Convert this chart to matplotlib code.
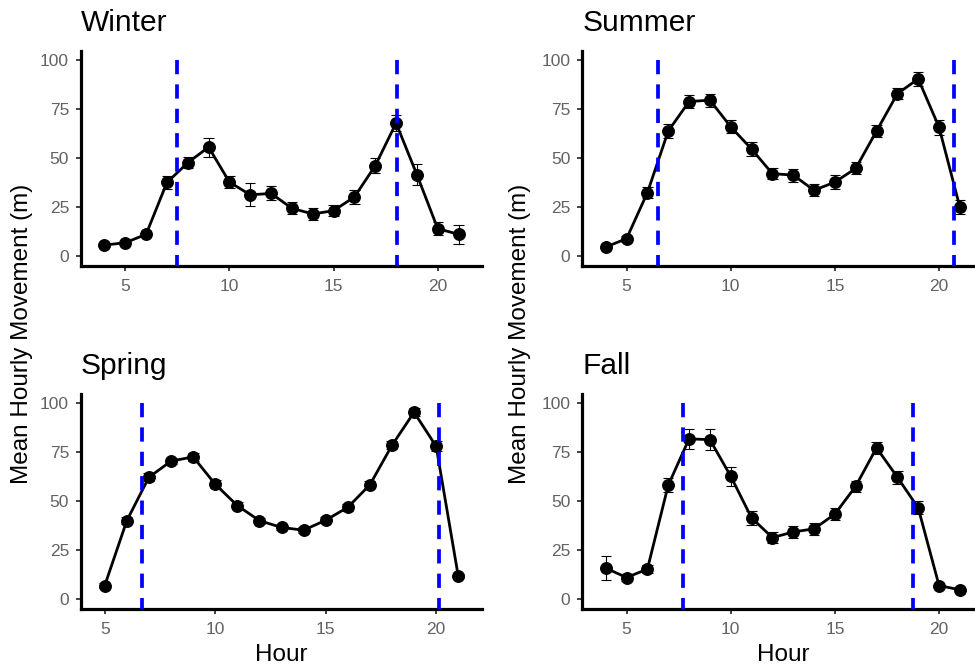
import matplotlib
matplotlib.use("Agg")
import matplotlib.pyplot as plt
import numpy as np

plt.rcParams['font.family'] = ['Liberation Sans', 'DejaVu Sans']

# ---- data ----
hours_w = list(range(4, 22))
winter_mean = [5.6, 6.8, 11.1, 37.6, 47.7, 55.7, 37.8, 31.3, 32.0, 24.4, 21.5, 23.2, 30.2, 46.2, 68.0, 41.6, 14.0, 11.1]
winter_se = [1.0, 1.0, 1.5, 3.4, 2.9, 4.9, 3.0, 5.8, 3.6, 3.1, 3.0, 2.7, 3.5, 3.7, 4.0, 5.4, 3.5, 4.9]
winter_vlines = [7.46, 18.05]

hours_su = list(range(4, 22))
summer_mean = [4.6, 8.9, 32.4, 63.9, 79.0, 79.7, 66.1, 54.7, 42.1, 41.4, 33.6, 37.8, 44.8, 63.9, 83.0, 90.6, 65.9, 25.0]
summer_se = [1.0, 1.5, 2.7, 3.4, 3.2, 3.3, 3.4, 3.8, 2.9, 3.3, 3.1, 3.4, 3.1, 3.2, 2.7, 3.4, 3.9, 3.7]
summer_vlines = [6.52, 20.70]

hours_sp = list(range(5, 22))
spring_mean = [6.8, 40.0, 62.2, 70.4, 72.6, 58.6, 47.7, 40.0, 36.5, 35.1, 40.2, 46.8, 58.3, 78.5, 95.4, 78.0, 11.6]
spring_se = [1.2, 1.8, 2.0, 1.5, 2.2, 2.0, 1.6, 1.5, 1.5, 1.5, 1.6, 1.8, 1.8, 2.1, 2.0, 2.5, 1.2]
spring_vlines = [6.67, 20.12]

hours_fa = list(range(4, 22))
fall_mean = [15.7, 10.9, 15.2, 58.1, 81.8, 81.4, 62.7, 41.4, 31.3, 34.2, 35.8, 43.3, 57.6, 77.2, 62.2, 46.5, 6.8, 4.6]
fall_se = [6.3, 2.0, 2.1, 3.7, 5.0, 5.5, 4.9, 3.6, 2.7, 3.1, 3.2, 3.2, 2.8, 3.2, 3.3, 3.3, 1.0, 1.0]
fall_vlines = [7.72, 18.77]

yticks = [0, 25, 50, 75, 100]
xticks = [5, 10, 15, 20]

W, H = 975, 668
fig = plt.figure(figsize=(W / 100, H / 100), dpi=100)

def px_axes(left, top, right, bottom):
    return fig.add_axes([left / W, 1 - bottom / H, (right - left) / W, (bottom - top) / H])

panels = [
    ("Winter", hours_w, winter_mean, winter_se, winter_vlines, (81, 50.7, 482, 265.8)),
    ("Summer", hours_su, summer_mean, summer_se, summer_vlines, (582.3, 50.7, 983.3, 265.8)),
    ("Spring", hours_sp, spring_mean, spring_se, spring_vlines, (81, 393.5, 482, 608.6)),
    ("Fall", hours_fa, fall_mean, fall_se, fall_vlines, (582.3, 393.5, 983.3, 608.6)),
]

half_cap = 0.25
for title, hrs, mean, se, vls, box in panels:
    ax = px_axes(*box)
    x = np.array(hrs, dtype=float)
    m = np.array(mean)
    e = np.array(se)
    ax.vlines(x, m - e, m + e, color='black', lw=0.8, zorder=2)
    ax.hlines(m - e, x - half_cap, x + half_cap, color='black', lw=0.8, zorder=2)
    ax.hlines(m + e, x - half_cap, x + half_cap, color='black', lw=0.8, zorder=2)
    ax.plot(x, m, color='black', lw=2.0, zorder=3)
    ax.plot(x, m, 'o', color='black', ms=8.3, zorder=4)
    for v in vls:
        ax.plot([v, v], [100, -5], color='#0000FF', lw=2.7,
                linestyle=(0, (3.8, 2.7)), zorder=5, dash_capstyle='butt')
    lo = x.min() - half_cap
    hi = x.max() + half_cap
    pad = (hi - lo) * 0.05
    ax.set_xlim(lo - pad, hi + pad)
    ax.set_ylim(-5, 105)
    ax.set_xticks(xticks)
    ax.set_yticks(yticks)
    ax.set_xticklabels([str(t) for t in xticks])
    ax.set_yticklabels([str(t) for t in yticks])
    for s in ['top', 'right']:
        ax.spines[s].set_visible(False)
    for s in ['left', 'bottom']:
        ax.spines[s].set_linewidth(2.3)
        ax.spines[s].set_color('black')
    ax.tick_params(axis='both', length=3.6, width=1.3, color='#333333',
                   labelsize=12.5, labelcolor='#626262', pad=5)
    ax.tick_params(axis='x', pad=6)
    ax.set_title(title, loc='left', fontsize=21.5, pad=14, color='black')
    ax.patch.set_alpha(0)

# shared labels
fig.text(22 / W, 1 - 334 / H, "Mean Hourly Movement (m)", rotation=90,
         ha='center', va='center', fontsize=17.5, color='black')
fig.text(520 / W, 1 - 334 / H, "Mean Hourly Movement (m)", rotation=90,
         ha='center', va='center', fontsize=17.5, color='black')
fig.text(281.5 / W, 1 - 655 / H, "Hour", ha='center', va='center', fontsize=17.5, color='black')
fig.text(782.8 / W, 1 - 655 / H, "Hour", ha='center', va='center', fontsize=17.5, color='black')

fig.savefig("out.png", dpi=100)
